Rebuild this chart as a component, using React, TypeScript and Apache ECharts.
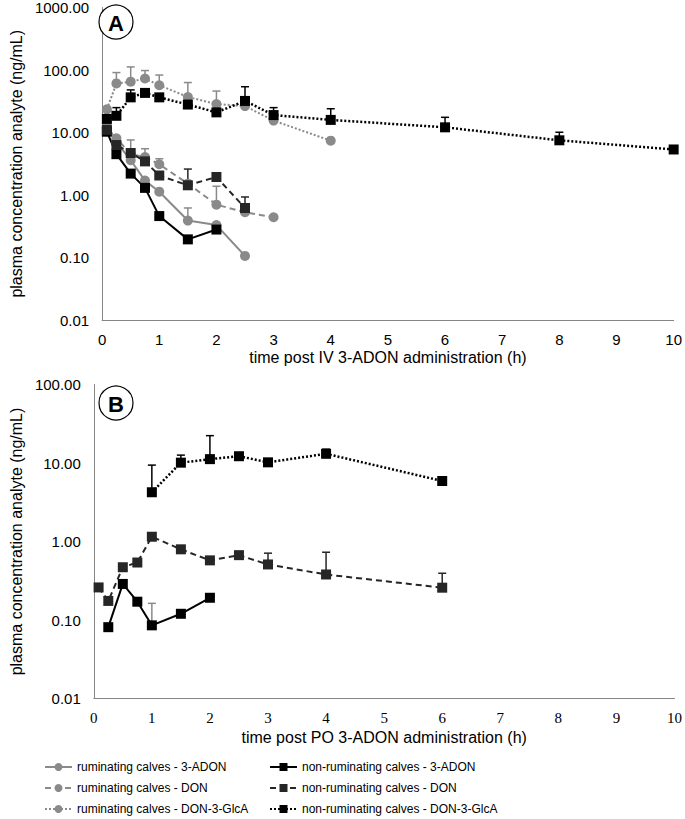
import React, { useEffect, useRef } from "react";
import * as echarts from "echarts";

// ---------- Panel A (IV) ----------
const tA_rum3ADON = [0.083, 0.25, 0.5, 0.75, 1, 1.5, 2, 2.5];
const vA_rum3ADON = [14, 7.0, 3.6, 1.7, 1.13, 0.39, 0.33, 0.106];
const eA_rum3ADON = [null, null, null, null, null, 0.62, null, null];

const tA_rumDON = [0.083, 0.25, 0.5, 0.75, 1, 1.5, 2, 2.5, 3];
const vA_rumDON = [12, 8.1, 4.5, 4.05, 3.1, 1.52, 0.7, 0.53, 0.44];
const eA_rumDON = [null, null, 7.6, 5.5, 3.8, null, 1.38, null, null];

const tA_rumGlcA = [0.083, 0.25, 0.5, 0.75, 1, 1.5, 2, 2.5, 3, 4];
const vA_rumGlcA = [23.5, 61, 65, 73, 57, 37, 28.5, 26.5, 15.5, 7.4];
const eA_rumGlcA = [null, 91, 112, 98, 83, 63, 46, null, null, null];

const tA_non3ADON = [0.083, 0.25, 0.5, 0.75, 1, 1.5, 2];
const vA_non3ADON = [10.3, 4.5, 2.2, 1.3, 0.46, 0.195, 0.28];
const eA_non3ADON = [null, null, null, null, null, null, null];

const tA_nonDON = [0.083, 0.25, 0.5, 0.75, 1, 1.5, 2, 2.5];
const vA_nonDON = [11, 6.3, 4.7, 3.45, 2.05, 1.43, 1.94, 0.62];
const eA_nonDON = [null, null, null, null, null, 2.6, null, 0.93];

const tA_nonGlcA = [0.083, 0.25, 0.5, 0.75, 1, 1.5, 2, 2.5, 3, 4, 6, 8, 10];
const vA_nonGlcA = [16.5, 18.5, 36.5, 43, 36.5, 28, 21, 32, 19, 15.9, 12.1, 7.5, 5.35];
const eA_nonGlcA = [null, 25, 48, null, null, null, null, 54, 25, 24, 17.5, 10.1, null];

// ---------- Panel B (PO) ----------
const tB_non3ADON = [0.25, 0.5, 0.75, 1, 1.5, 2];
const vB_non3ADON = [0.081, 0.288, 0.171, 0.0855, 0.12, 0.192];
const eB_non3ADON = [null, null, null, 0.163, null, null];

const tB_nonDON = [0.083, 0.25, 0.5, 0.75, 1, 1.5, 2, 2.5, 3, 4, 6];
const vB_nonDON = [0.26, 0.175, 0.47, 0.54, 1.15, 0.795, 0.575, 0.67, 0.51, 0.38, 0.258];
const eB_nonDON = [null, null, null, null, null, null, null, null, 0.71, 0.73, 0.394];

const tB_nonGlcA = [1, 1.5, 2, 2.5, 3, 4, 6];
const vB_nonGlcA = [4.24, 10.1, 11.2, 12.2, 10.2, 13.1, 5.9];
const eB_nonGlcA = [9.4, 12.6, 22.3, null, null, 15, null];

const xTicks = [0, 1, 2, 3, 4, 5, 6, 7, 8, 9, 10];

const N_R3 = "ruminating calves - 3-ADON";
const N_RD = "ruminating calves - DON";
const N_RG = "ruminating calves - DON-3-GlcA";
const N_N3 = "non-ruminating calves - 3-ADON";
const N_ND = "non-ruminating calves - DON";
const N_NG = "non-ruminating calves - DON-3-GlcA";

const GRAY = "#8a8a8a";
const BLACK = "#000000";
const DARK = "#262626";
const AXIS = "#868686";
const FONT = "'Liberation Sans', Arial, sans-serif";

function pairs(t: number[], v: number[]) {
  return t.map((x, i) => [x, v[i]]);
}

function errData(t: number[], v: number[], e: (number | null)[]) {
  const out: number[][] = [];
  t.forEach((x, i) => {
    const hi = e[i];
    if (hi != null) out.push([x, v[i], hi]);
  });
  return out;
}

function lineSeries(
  name: string,
  idx: number,
  t: number[],
  v: number[],
  color: string,
  type: any,
  symbol: string,
  width: number
) {
  return {
    type: "line",
    name,
    xAxisIndex: idx,
    yAxisIndex: idx,
    data: pairs(t, v),
    symbol,
    symbolSize: 10,
    showSymbol: true,
    itemStyle: { color, borderWidth: 0 },
    lineStyle: { color, width, type },
    z: 3,
  };
}

function errSeries(idx: number, t: number[], v: number[], e: (number | null)[], color: string) {
  return {
    type: "custom",
    xAxisIndex: idx,
    yAxisIndex: idx,
    data: errData(t, v, e),
    encode: { x: 0, y: [1, 2] },
    z: 2,
    silent: true,
    renderItem: (params: any, api: any) => {
      const x = api.value(0);
      const lo = api.coord([x, api.value(1)]);
      const hi = api.coord([x, api.value(2)]);
      return {
        type: "group",
        children: [
          {
            type: "line",
            shape: { x1: lo[0], y1: lo[1], x2: hi[0], y2: hi[1] },
            style: { stroke: color, lineWidth: 1.5 },
          },
          {
            type: "line",
            shape: { x1: hi[0] - 4, y1: hi[1], x2: hi[0] + 4, y2: hi[1] },
            style: { stroke: color, lineWidth: 1.5 },
          },
        ],
      };
    },
  };
}

function xAxis(idx: number, title: string, serif: boolean, gap: number) {
  return {
    type: "value",
    gridIndex: idx,
    min: xTicks[0],
    max: xTicks[xTicks.length - 1],
    interval: 1,
    name: title,
    nameLocation: "middle",
    nameGap: gap,
    nameTextStyle: { fontSize: 16, color: "#000", fontFamily: FONT },
    axisLine: { show: true, lineStyle: { color: AXIS, width: 1 } },
    axisTick: { show: false },
    splitLine: { show: false },
    axisLabel: {
      fontSize: 15,
      color: "#000",
      margin: 12,
      fontFamily: serif ? "'Liberation Serif', 'Times New Roman', serif" : FONT,
    },
  };
}

function yAxis(idx: number, min: number, max: number) {
  return {
    type: "log",
    logBase: 10,
    gridIndex: idx,
    min,
    max,
    name: "plasma concentration analyte (ng/mL)",
    nameLocation: "middle",
    nameGap: 64,
    nameTextStyle: { fontSize: 16, color: "#000", fontFamily: FONT },
    axisLine: { show: true, lineStyle: { color: AXIS, width: 1 } },
    axisTick: { show: false },
    splitLine: { show: false },
    axisLabel: {
      fontSize: 15,
      color: "#000",
      margin: 13,
      fontFamily: FONT,
      formatter: (v: number) => v.toFixed(2),
    },
  };
}

export default function App() {
  const ref = useRef<HTMLDivElement>(null);
  useEffect(() => {
    document.body.style.margin = "0";
    document.body.style.overflow = "hidden";
    const chart = echarts.init(ref.current!, null, { renderer: "svg" });
    const legendCommon = {
      orient: "vertical",
      top: 760,
      padding: 0,
      itemWidth: 27,
      itemHeight: 10,
      itemGap: 7,
      selectedMode: false,
      textStyle: { fontSize: 12, color: "#000", fontFamily: FONT, lineHeight: 14 },
    };
    chart.setOption({
      animation: false,
      textStyle: { fontFamily: FONT },
      grid: [
        { left: 75, top: 7, width: 601, height: 313 },
        { left: 75, top: 384.5, width: 601, height: 314 },
      ],
      xAxis: [
        xAxis(0, "time post IV 3-ADON administration (h)", false, 29),
        xAxis(1, "time post PO 3-ADON administration (h)", true, 31),
      ],
      yAxis: [yAxis(0, 0.01, 1000), yAxis(1, 0.01, 100)],
      legend: [
        { ...legendCommon, left: 44, data: [N_R3, N_RD, N_RG] },
        { ...legendCommon, left: 269, data: [N_N3, N_ND, N_NG] },
      ],
      graphic: [
        {
          type: "circle",
          shape: { cx: 116, cy: 22, r: 17 },
          style: { fill: "#fff", stroke: "#000", lineWidth: 1.2 },
          z: 10,
        },
        {
          type: "text",
          x: 116,
          y: 23,
          style: { text: "A", fontSize: 22, fontWeight: "bold", fill: "#000", align: "center", verticalAlign: "middle", fontFamily: FONT },
          z: 11,
        },
        {
          type: "circle",
          shape: { cx: 116, cy: 403, r: 17 },
          style: { fill: "#fff", stroke: "#000", lineWidth: 1.2 },
          z: 10,
        },
        {
          type: "text",
          x: 116,
          y: 404,
          style: { text: "B", fontSize: 22, fontWeight: "bold", fill: "#000", align: "center", verticalAlign: "middle", fontFamily: FONT },
          z: 11,
        },
      ],
      series: [
        errSeries(0, tA_rum3ADON, vA_rum3ADON, eA_rum3ADON, GRAY),
        errSeries(0, tA_rumDON, vA_rumDON, eA_rumDON, GRAY),
        errSeries(0, tA_rumGlcA, vA_rumGlcA, eA_rumGlcA, GRAY),
        errSeries(0, tA_non3ADON, vA_non3ADON, eA_non3ADON, BLACK),
        errSeries(0, tA_nonDON, vA_nonDON, eA_nonDON, DARK),
        errSeries(0, tA_nonGlcA, vA_nonGlcA, eA_nonGlcA, BLACK),
        errSeries(1, tB_non3ADON, vB_non3ADON, eB_non3ADON, GRAY),
        errSeries(1, tB_nonDON, vB_nonDON, eB_nonDON, DARK),
        errSeries(1, tB_nonGlcA, vB_nonGlcA, eB_nonGlcA, BLACK),
        lineSeries(N_R3, 0, tA_rum3ADON, vA_rum3ADON, GRAY, "solid", "circle", 2),
        lineSeries(N_RD, 0, tA_rumDON, vA_rumDON, GRAY, [6, 4], "circle", 2),
        lineSeries(N_RG, 0, tA_rumGlcA, vA_rumGlcA, GRAY, [2, 2], "circle", 2),
        lineSeries(N_N3, 0, tA_non3ADON, vA_non3ADON, BLACK, "solid", "rect", 2),
        lineSeries(N_ND, 0, tA_nonDON, vA_nonDON, DARK, [6, 4], "rect", 2),
        lineSeries(N_NG, 0, tA_nonGlcA, vA_nonGlcA, BLACK, [2, 2], "rect", 2.5),
        lineSeries(N_N3, 1, tB_non3ADON, vB_non3ADON, BLACK, "solid", "rect", 2),
        lineSeries(N_ND, 1, tB_nonDON, vB_nonDON, DARK, [6, 4], "rect", 2),
        lineSeries(N_NG, 1, tB_nonGlcA, vB_nonGlcA, BLACK, [2, 2], "rect", 2.5),
      ],
    });
    return () => chart.dispose();
  }, []);
  return <div ref={ref} style={{ width: 685, height: 819 }} />;
}
